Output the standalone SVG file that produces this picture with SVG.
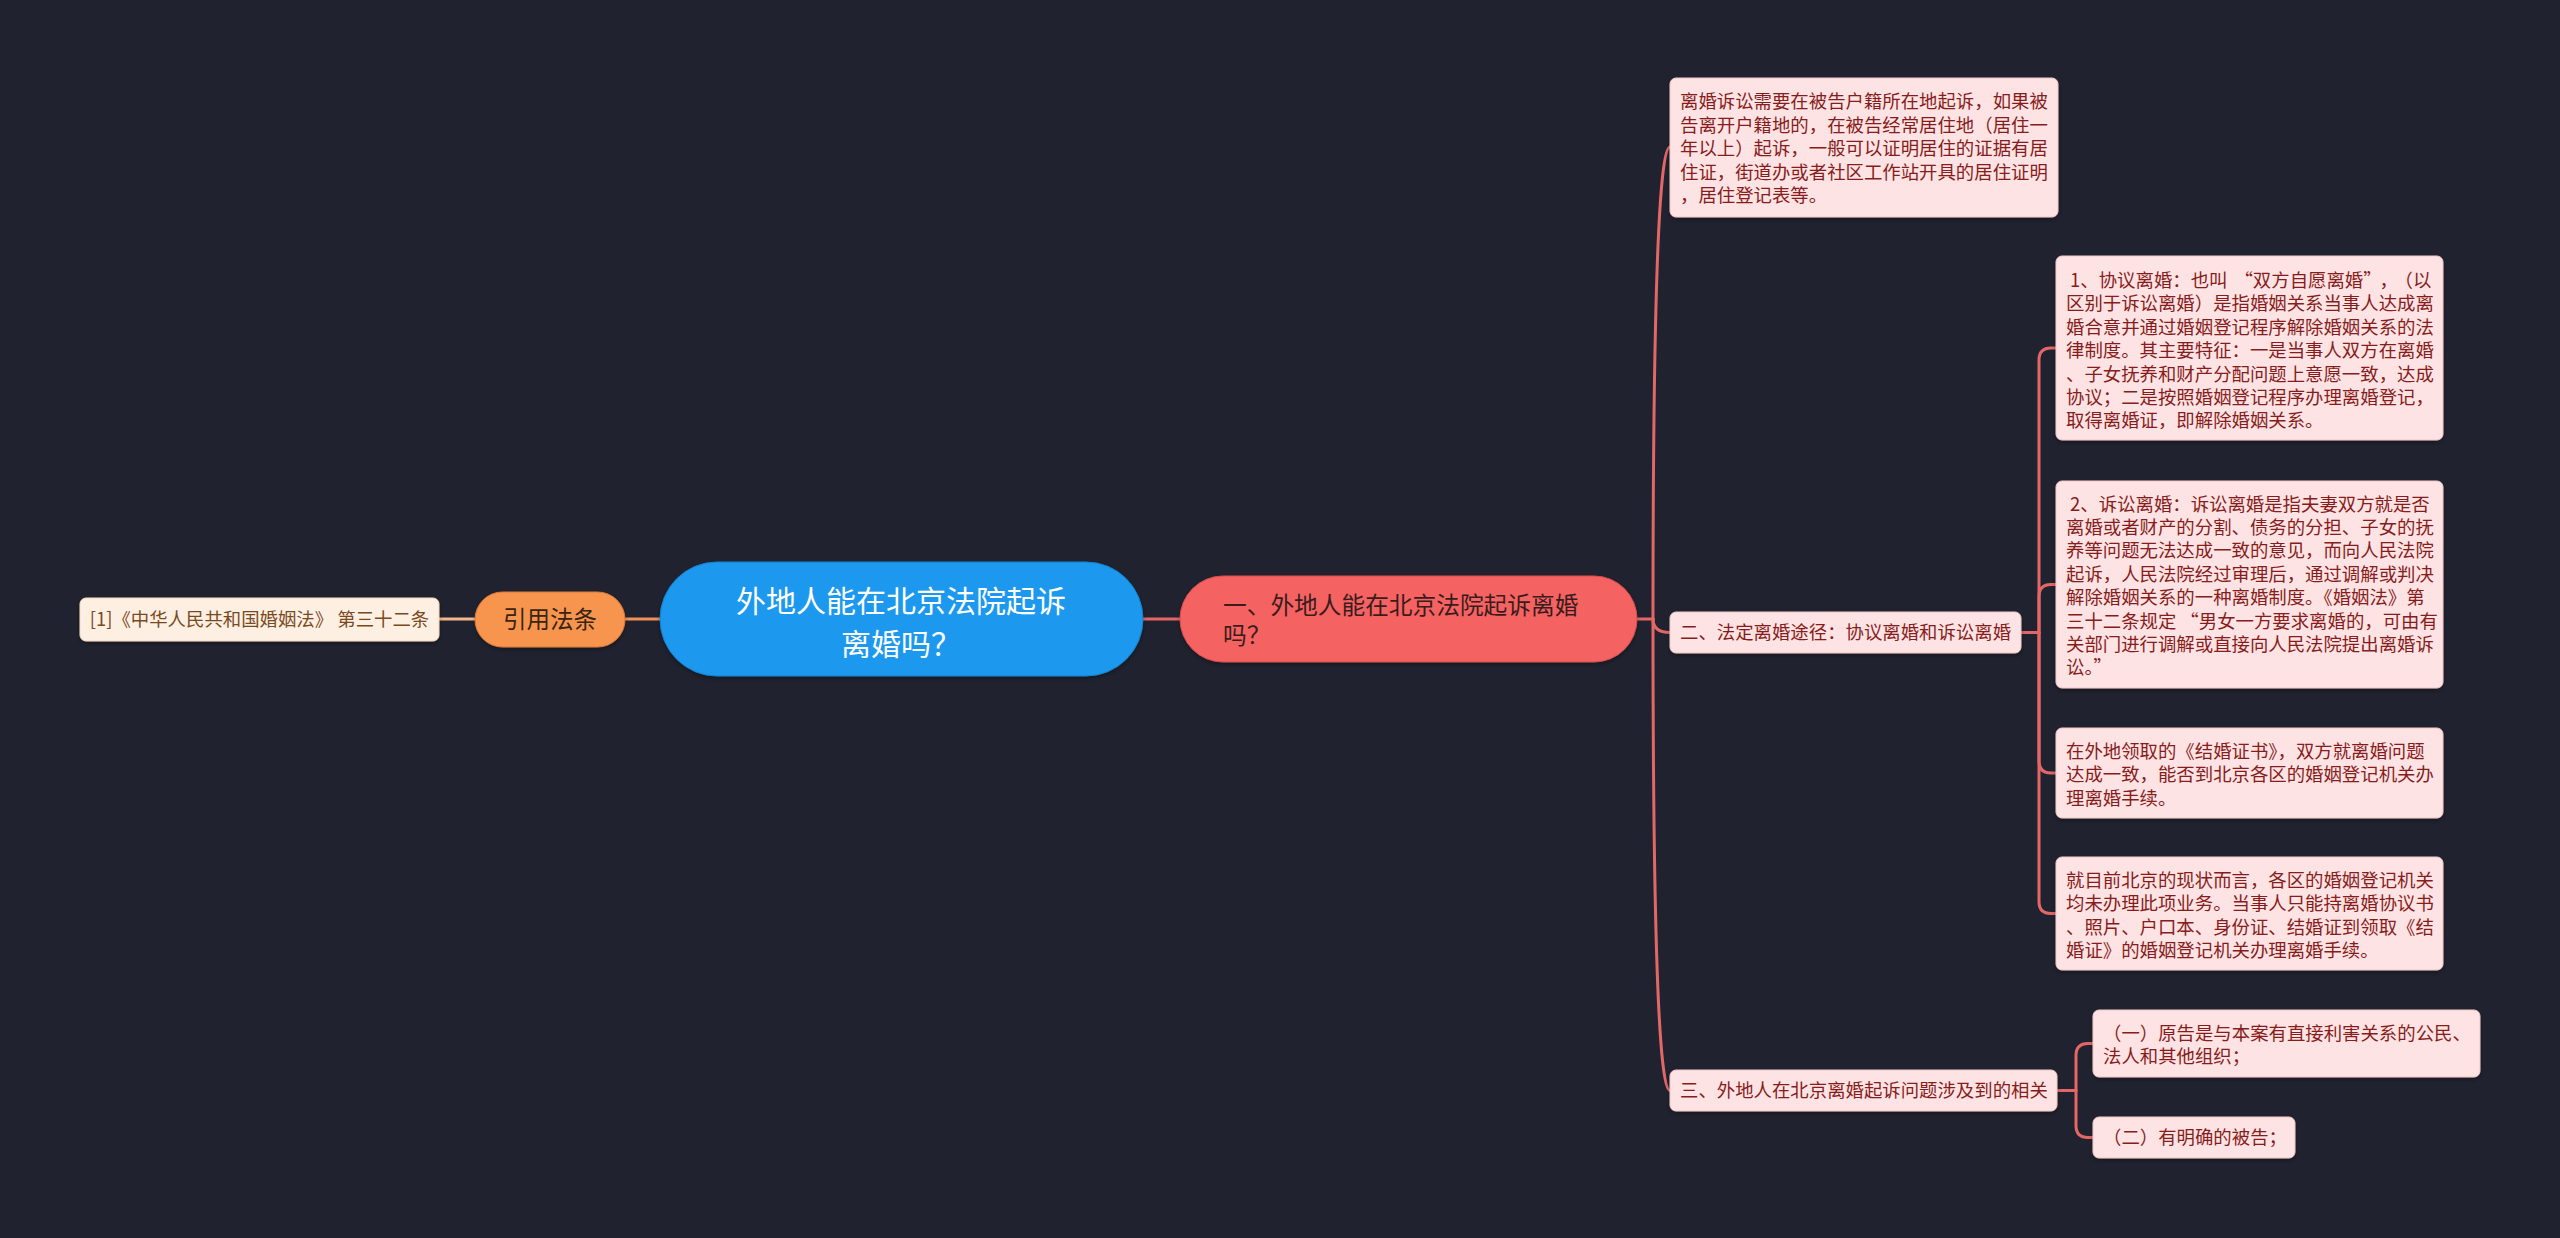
<svg xmlns="http://www.w3.org/2000/svg" width="2560" height="1238" viewBox="0 0 2560 1238">
<style>
text{font-family:"Noto Sans CJK SC","Liberation Sans",sans-serif;}
.leaf rect{fill:#fde3e3;stroke:#f3c7c7;stroke-width:1;}
.leaf text{font-size:18.4px;fill:#871c1c;}
.ln{fill:none;stroke:#e46767;stroke-width:3;stroke-linecap:round;}
</style>
<defs>
<filter id="sh" x="-10%" y="-20%" width="120%" height="150%">
<feDropShadow dx="0" dy="2" stdDeviation="2" flood-color="#000" flood-opacity="0.35"/>
</filter>
</defs>
<rect width="2560" height="1238" fill="#20232f"/>

<g id="connectors">
<path d="M439 619 H475" fill="none" stroke="#f5b88e" stroke-width="3"/>
<path d="M625 619 H660" fill="none" stroke="#f0925a" stroke-width="3"/>
<path class="ln" d="M1143 619 H1180"/>
<path class="ln" d="M1637 619 H1653"/>
<path class="ln" d="M1653 619 Q1653 147 1670 147"/>
<path class="ln" d="M1653 619 Q1653 632.5 1670 632.5"/>
<path class="ln" d="M1653 619 Q1653 1090.5 1670 1090.5"/>
<path class="ln" d="M2021 632.5 H2039"/>
<path class="ln" d="M2039 632.5 V360 Q2039 348 2051 348 H2056"/>
<path class="ln" d="M2039 632.5 V596.5 Q2039 584.5 2051 584.5 H2056"/>
<path class="ln" d="M2039 632.5 V761 Q2039 773 2051 773 H2056"/>
<path class="ln" d="M2039 632.5 V901.5 Q2039 913.5 2051 913.5 H2056"/>
<path class="ln" d="M2057 1090.5 H2076"/>
<path class="ln" d="M2076 1090.5 V1055.5 Q2076 1043.5 2088 1043.5 H2093"/>
<path class="ln" d="M2076 1090.5 V1125.5 Q2076 1137.5 2088 1137.5 H2093"/>
</g>

<g id="ref">
<rect x="80" y="598" width="359" height="43" rx="6" fill="#fdf0e3" stroke="#f6d9bf" filter="url(#sh)"/>
<text x="259.5" y="625.5" font-size="18.4" fill="#7a4a1e" text-anchor="middle">[1]《中华人民共和国婚姻法》 第三十二条</text>
</g>

<g id="cite">
<rect x="475" y="592" width="150" height="55" rx="27.5" fill="#f7954f" stroke="#d9783a" filter="url(#sh)"/>
<text x="550" y="628" font-size="23.5" fill="#3a2414" text-anchor="middle">引用法条</text>
</g>

<g id="root">
<rect x="660" y="562" width="483" height="114" rx="57" fill="#1a99ee" stroke="#1580cc" filter="url(#sh)"/>
<text x="901" y="612" font-size="30" fill="#ffffff" text-anchor="middle">外地人能在北京法院起诉</text>
<text x="901" y="655" font-size="30" fill="#ffffff" text-anchor="middle">离婚吗？</text>
</g>

<g id="main">
<rect x="1180" y="576" width="457" height="86" rx="43" fill="#f56262" stroke="#d84e4e" filter="url(#sh)"/>
<text font-size="23.7" fill="#3a1c1c"><tspan x="1223" y="613.5">一、外地人能在北京法院起诉离婚</tspan><tspan x="1223" y="643.5">吗？</tspan></text>
</g>

<g id="a" class="leaf">
<rect x="1670" y="78" width="388" height="139" rx="6" filter="url(#sh)"/>
<text x="1680" y="108">离婚诉讼需要在被告户籍所在地起诉，如果被</text>
<text x="1680" y="131.6">告离开户籍地的，在被告经常居住地（居住一</text>
<text x="1680" y="155.2">年以上）起诉，一般可以证明居住的证据有居</text>
<text x="1680" y="178.8">住证，街道办或者社区工作站开具的居住证明</text>
<text x="1680" y="202.4">，居住登记表等。</text>
</g>

<g id="b" class="leaf">
<rect x="1670" y="612" width="351" height="41" rx="6" filter="url(#sh)"/>
<text x="1680" y="639">二、法定离婚途径：协议离婚和诉讼离婚</text>
</g>

<g id="b1" class="leaf">
<rect x="2056" y="256" width="387" height="184" rx="6" filter="url(#sh)"/>
<text x="2066" y="287">&#160;1、协议离婚：也叫<tspan dx="7">“</tspan>双方自愿离婚”<tspan dx="7">，</tspan><tspan dx="6">（以</tspan></text>
<text x="2066" y="310.4">区别于诉讼离婚）是指婚姻关系当事人达成离</text>
<text x="2066" y="333.8">婚合意并通过婚姻登记程序解除婚姻关系的法</text>
<text x="2066" y="357.2">律制度。其主要特征：一是当事人双方在离婚</text>
<text x="2066" y="380.6">、子女抚养和财产分配问题上意愿一致，达成</text>
<text x="2066" y="404">协议；二是按照婚姻登记程序办理离婚登记，</text>
<text x="2066" y="427.4">取得离婚证，即解除婚姻关系。</text>
</g>

<g id="b2" class="leaf">
<rect x="2056" y="481" width="387" height="207" rx="6" filter="url(#sh)"/>
<text x="2066" y="510.5">&#160;2、诉讼离婚：诉讼离婚是指夫妻双方就是否</text>
<text x="2066" y="533.9">离婚或者财产的分割、债务的分担、子女的抚</text>
<text x="2066" y="557.3">养等问题无法达成一致的意见，而向人民法院</text>
<text x="2066" y="580.7">起诉，人民法院经过审理后，通过调解或判决</text>
<text x="2066" y="604.1">解除婚姻关系的一种离婚制度。《婚姻法》第</text>
<text x="2066" y="627.5">三十二条规定<tspan dx="4">“</tspan>男女一方要求离婚的，可由有</text>
<text x="2066" y="650.9">关部门进行调解或直接向人民法院提出离婚诉</text>
<text x="2066" y="674.3">讼。”</text>
</g>

<g id="b3" class="leaf">
<rect x="2056" y="728" width="387" height="90" rx="6" filter="url(#sh)"/>
<text x="2066" y="758">在外地领取的《结婚证书》，双方就离婚问题</text>
<text x="2066" y="781.4">达成一致，能否到北京各区的婚姻登记机关办</text>
<text x="2066" y="804.8">理离婚手续。</text>
</g>

<g id="b4" class="leaf">
<rect x="2056" y="857" width="387" height="113" rx="6" filter="url(#sh)"/>
<text x="2066" y="887">就目前北京的现状而言，各区的婚姻登记机关</text>
<text x="2066" y="910.4">均未办理此项业务。当事人只能持离婚协议书</text>
<text x="2066" y="933.8">、照片、户口本、身份证、结婚证到领取《结</text>
<text x="2066" y="957.2">婚证》的婚姻登记机关办理离婚手续。</text>
</g>

<g id="c" class="leaf">
<rect x="1670" y="1070" width="387" height="41" rx="6" filter="url(#sh)"/>
<text x="1680" y="1097">三、外地人在北京离婚起诉问题涉及到的相关</text>
</g>

<g id="c1" class="leaf">
<rect x="2093" y="1010" width="387" height="67" rx="6" filter="url(#sh)"/>
<text x="2103" y="1039.5">（一）原告是与本案有直接利害关系的公民、</text>
<text x="2103" y="1062.9">法人和其他组织；</text>
</g>

<g id="c2" class="leaf">
<rect x="2093" y="1117" width="202" height="41" rx="6" filter="url(#sh)"/>
<text x="2103" y="1144">（二）有明确的被告；</text>
</g>
</svg>
